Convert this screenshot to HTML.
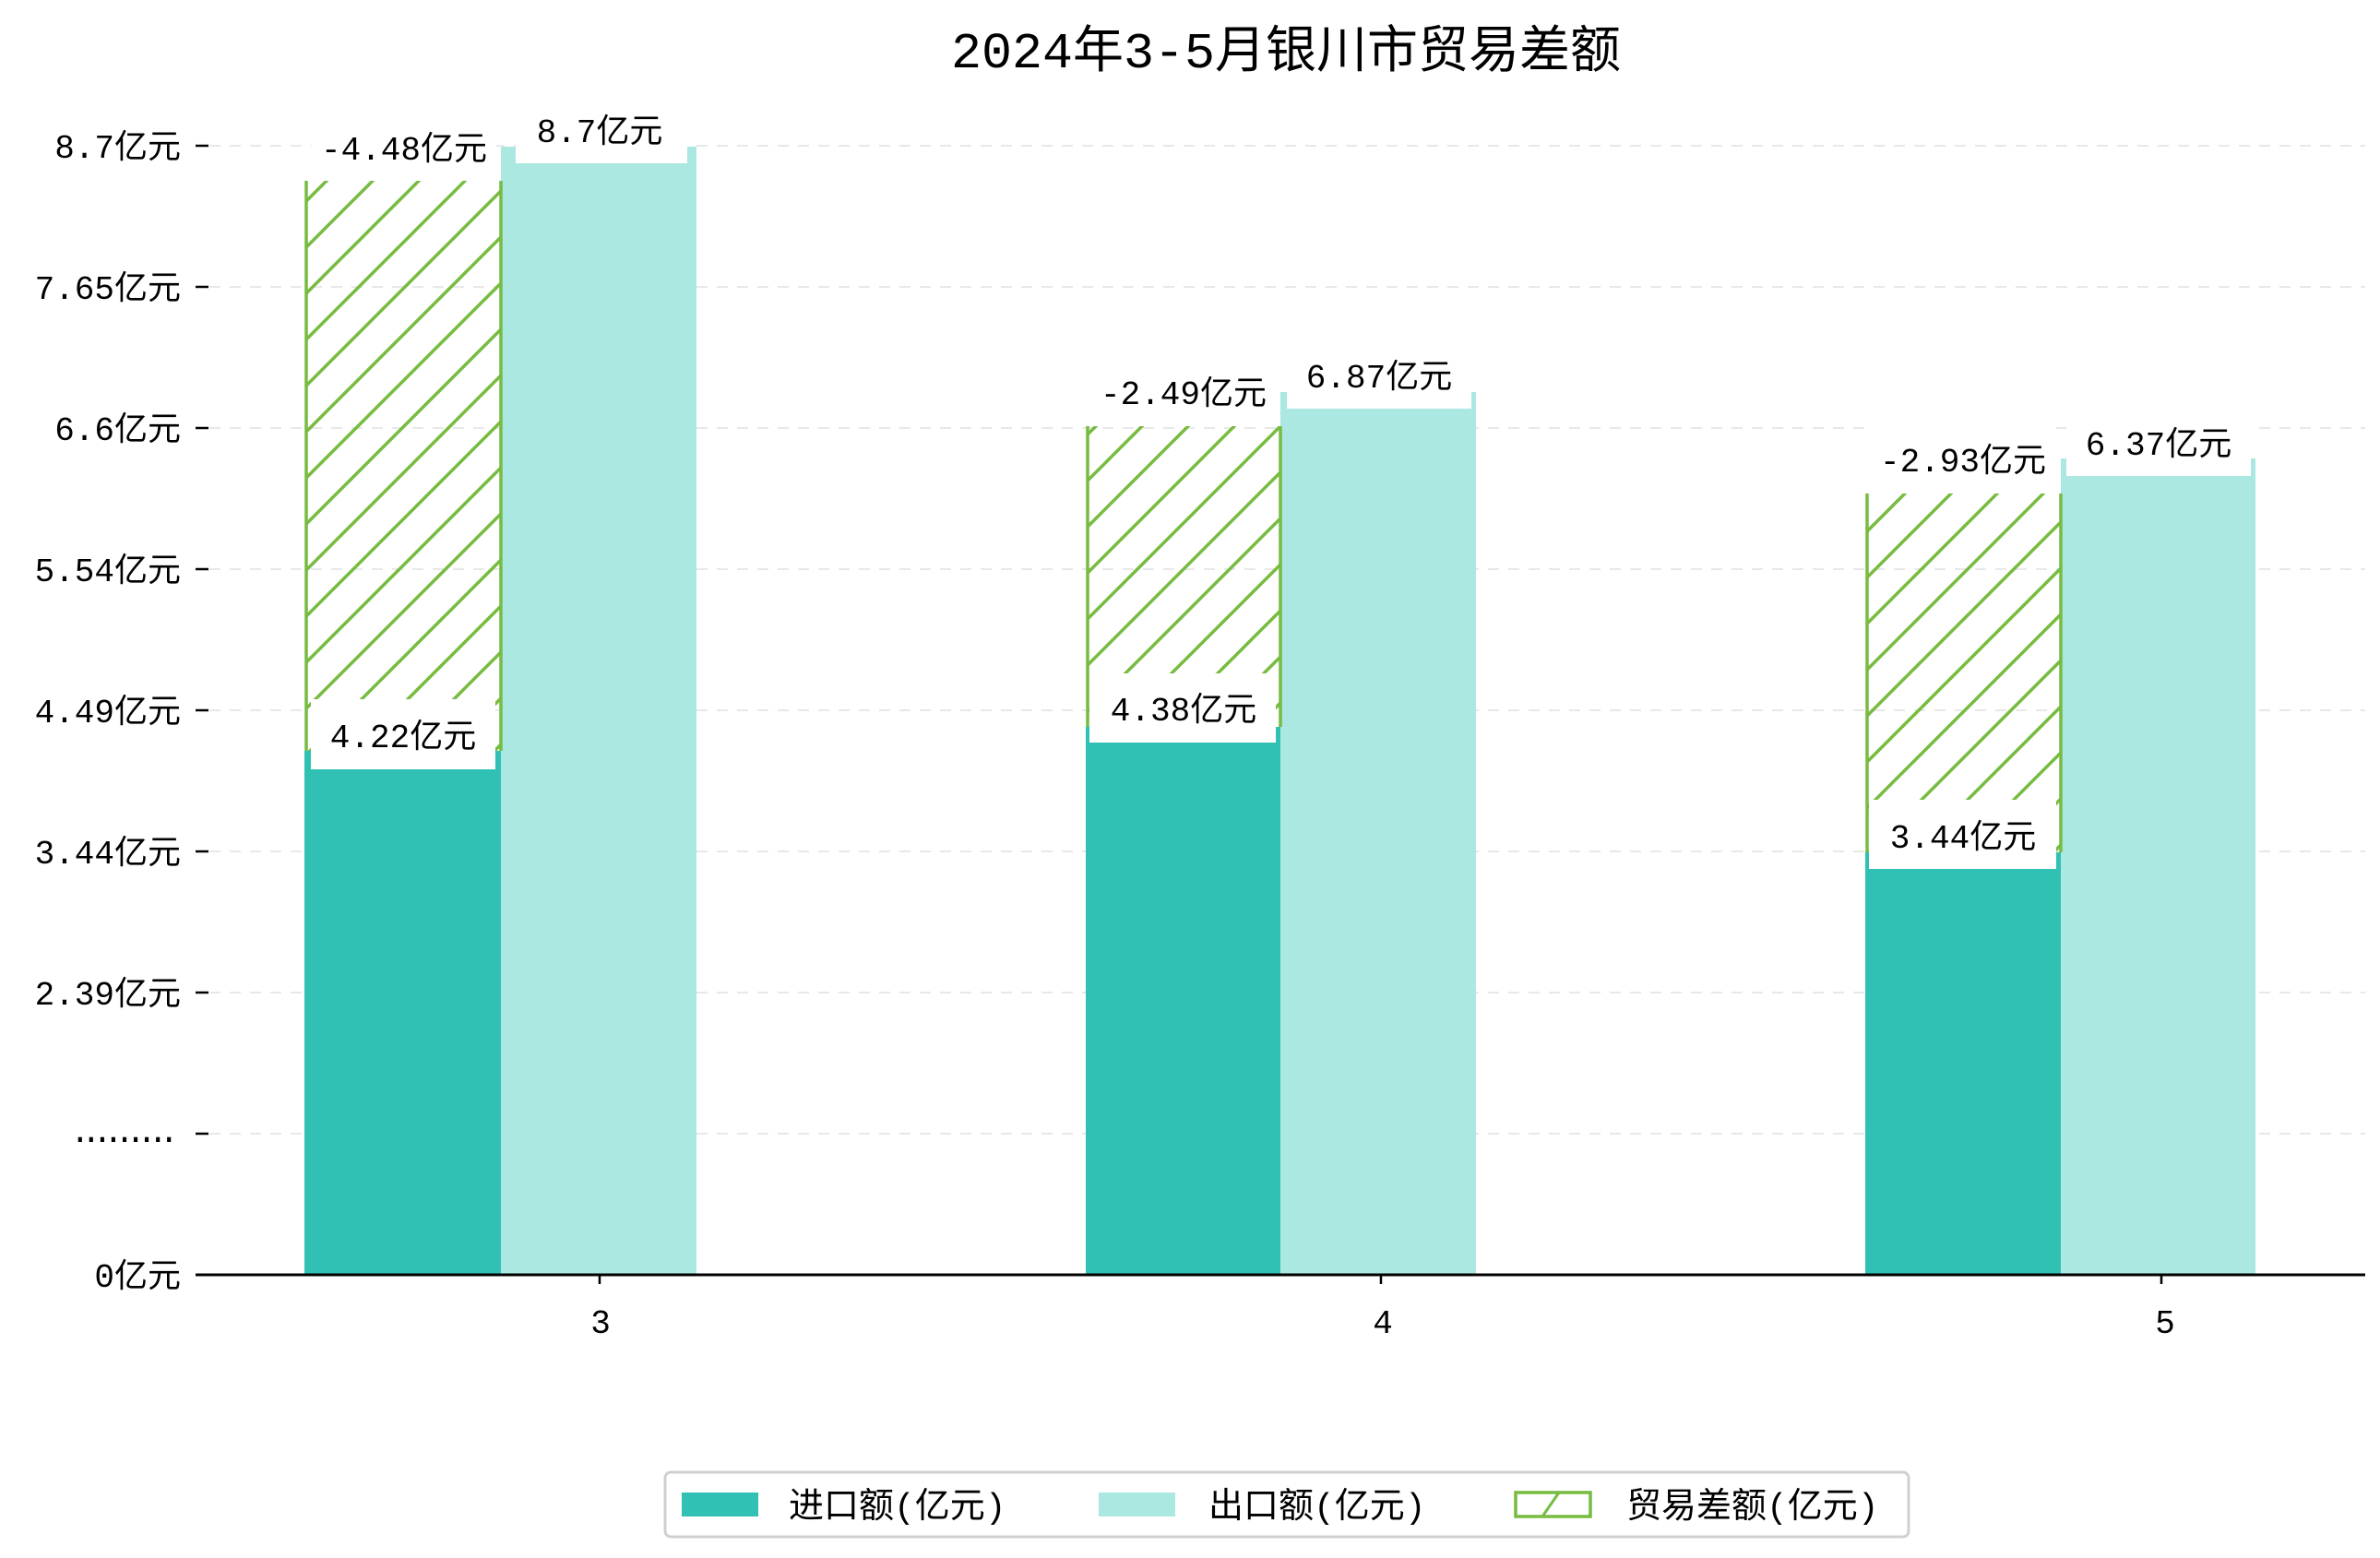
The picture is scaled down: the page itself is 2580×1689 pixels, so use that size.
<!DOCTYPE html>
<html><head><meta charset="utf-8"><style>
html,body{margin:0;padding:0;background:#fff;}
svg{display:block;}
text{font-family:"Liberation Mono","Noto Sans CJK SC",monospace;fill:#000;}
</style></head><body>
<svg width="2580" height="1689" viewBox="0 0 2580 1689" xmlns="http://www.w3.org/2000/svg">
<defs>
<pattern id="h" patternUnits="userSpaceOnUse" width="50" height="50">
<line x1="-5" y1="55" x2="55" y2="-5" stroke="#77bc40" stroke-width="3.5"/>
<line x1="-30" y1="30" x2="30" y2="-30" stroke="#77bc40" stroke-width="3.5"/>
<line x1="20" y1="80" x2="80" y2="20" stroke="#77bc40" stroke-width="3.5"/>
</pattern>
</defs>
<text x="1394" y="73" font-size="55" text-anchor="middle">2024年3-5月银川市贸易差额</text>
<g stroke="#e8e8e8" stroke-width="2" stroke-dasharray="12,10">
<line x1="227" y1="158" x2="2564" y2="158"/>
<line x1="227" y1="311" x2="2564" y2="311"/>
<line x1="227" y1="464" x2="2564" y2="464"/>
<line x1="227" y1="617" x2="2564" y2="617"/>
<line x1="227" y1="770" x2="2564" y2="770"/>
<line x1="227" y1="923" x2="2564" y2="923"/>
<line x1="227" y1="1076" x2="2564" y2="1076"/>
<line x1="227" y1="1229" x2="2564" y2="1229"/>
</g>
<g stroke="#000" stroke-width="2.5">
<line x1="212" y1="158" x2="226" y2="158"/>
<line x1="212" y1="311" x2="226" y2="311"/>
<line x1="212" y1="464" x2="226" y2="464"/>
<line x1="212" y1="617" x2="226" y2="617"/>
<line x1="212" y1="770" x2="226" y2="770"/>
<line x1="212" y1="923" x2="226" y2="923"/>
<line x1="212" y1="1076" x2="226" y2="1076"/>
<line x1="212" y1="1229" x2="226" y2="1229"/>
</g>
<g font-size="36" text-anchor="end">
<text x="196" y="171">8.7亿元</text>
<text x="196" y="324">7.65亿元</text>
<text x="196" y="477">6.6亿元</text>
<text x="196" y="630">5.54亿元</text>
<text x="196" y="783">4.49亿元</text>
<text x="196" y="936">3.44亿元</text>
<text x="196" y="1089">2.39亿元</text>
<text x="196" y="1395">0亿元</text>
</g>
<text x="76" y="1238" font-size="36" textLength="118" lengthAdjust="spacing">.........</text>
<rect x="330" y="814" width="213" height="568" fill="#31c1b4"/>
<rect x="543" y="159" width="212" height="1223" fill="#abe8e2"/>
<rect x="332" y="196" width="211" height="618" fill="url(#h)"/>
<line x1="332" y1="196" x2="332" y2="814" stroke="#77bc40" stroke-width="3.5"/>
<line x1="543" y1="196" x2="543" y2="814" stroke="#77bc40" stroke-width="3.5"/>
<rect x="1177" y="788" width="211" height="594" fill="#31c1b4"/>
<rect x="1388" y="425" width="212" height="957" fill="#abe8e2"/>
<rect x="1179" y="462" width="209" height="326" fill="url(#h)"/>
<line x1="1179" y1="462" x2="1179" y2="788" stroke="#77bc40" stroke-width="3.5"/>
<line x1="1388" y1="462" x2="1388" y2="788" stroke="#77bc40" stroke-width="3.5"/>
<rect x="2022" y="924" width="212" height="458" fill="#31c1b4"/>
<rect x="2234" y="497" width="211" height="885" fill="#abe8e2"/>
<rect x="2024" y="535" width="210" height="389" fill="url(#h)"/>
<line x1="2024" y1="535" x2="2024" y2="924" stroke="#77bc40" stroke-width="3.5"/>
<line x1="2234" y1="535" x2="2234" y2="924" stroke="#77bc40" stroke-width="3.5"/>
<g fill="#fff">
<rect x="338" y="120" width="200" height="76"/>
<rect x="559" y="120" width="186" height="57"/>
<rect x="337" y="758" width="200" height="76"/>
<rect x="1183" y="386" width="200" height="76"/>
<rect x="1395" y="386" width="200" height="57"/>
<rect x="1181" y="730" width="202" height="75"/>
<rect x="2028" y="459" width="200" height="76"/>
<rect x="2240" y="459" width="200" height="57"/>
<rect x="2026" y="867" width="203" height="75"/>
</g>
<g font-size="36" text-anchor="middle">
<text x="438" y="173">-4.48亿元</text>
<text x="650" y="154">8.7亿元</text>
<text x="437" y="810">4.22亿元</text>
<text x="1283" y="438">-2.49亿元</text>
<text x="1495" y="420">6.87亿元</text>
<text x="1283" y="781">4.38亿元</text>
<text x="2128" y="511">-2.93亿元</text>
<text x="2340" y="493">6.37亿元</text>
<text x="2128" y="919">3.44亿元</text>
</g>
<line x1="212" y1="1382" x2="2564" y2="1382" stroke="#000" stroke-width="3"/>
<g stroke="#000" stroke-width="2.5">
<line x1="650" y1="1382" x2="650" y2="1392"/>
<line x1="1497" y1="1382" x2="1497" y2="1392"/>
<line x1="2343" y1="1382" x2="2343" y2="1392"/>
</g>
<g font-size="36" text-anchor="middle">
<text x="651" y="1445">3</text>
<text x="1499" y="1445">4</text>
<text x="2347" y="1445">5</text>
</g>
<rect x="721" y="1596" width="1348" height="70" rx="6" fill="#fff" stroke="#d0d0d0" stroke-width="3"/>
<rect x="739" y="1618" width="83" height="26" fill="#31c1b4"/>
<rect x="1191" y="1618" width="83" height="26" fill="#abe8e2"/>
<rect x="1643" y="1618" width="81" height="26" fill="#fff" stroke="#77bc40" stroke-width="3.5"/>
<line x1="1672" y1="1644" x2="1690" y2="1618" stroke="#77bc40" stroke-width="3"/>
<g font-size="38">
<text x="855" y="1645">进口额(亿元)</text>
<text x="1310" y="1645">出口额(亿元)</text>
<text x="1763" y="1645">贸易差额(亿元)</text>
</g>
</svg>
</body></html>
